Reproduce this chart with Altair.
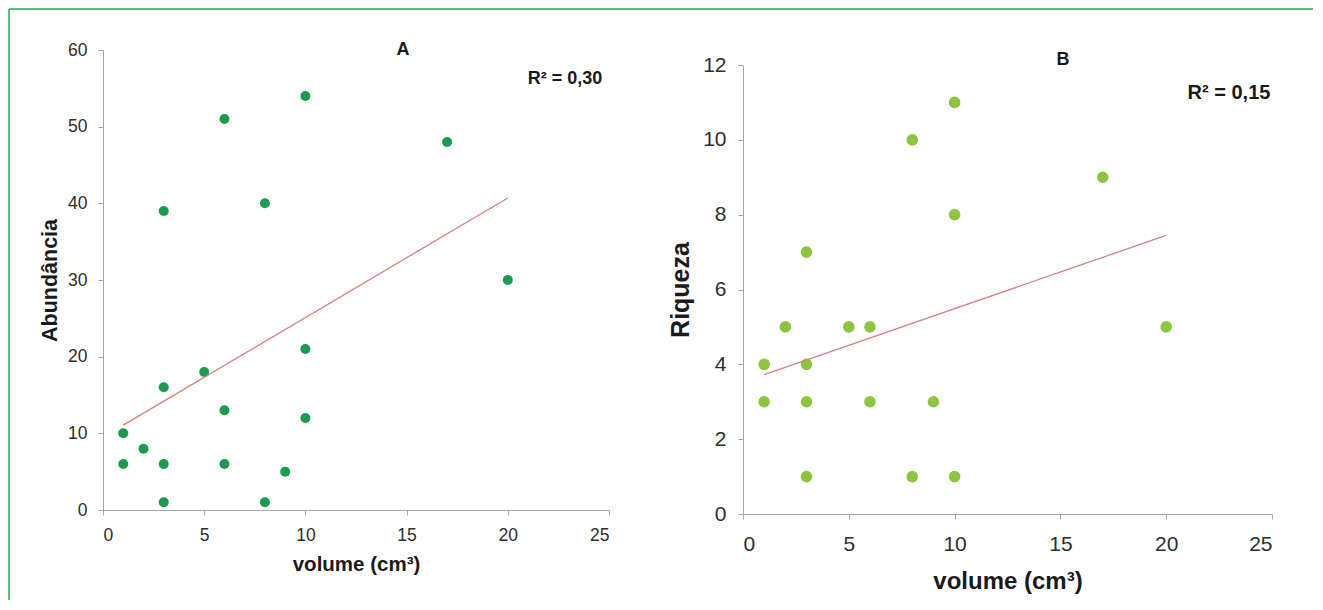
import altair as alt
import pandas as pd

# ---- data ----
vol_a = [1, 1, 2, 3, 3, 3, 3, 5, 6, 6, 6, 8, 8, 9, 10, 10, 10, 17, 20]
abundancia = [10, 6, 8, 39, 16, 6, 1, 18, 51, 13, 6, 40, 1, 5, 54, 21, 12, 48, 30]

vol_b = [1, 1, 2, 3, 3, 3, 3, 5, 6, 6, 8, 8, 9, 10, 10, 10, 17, 20]
riqueza = [4, 3, 5, 7, 4, 3, 1, 5, 5, 3, 10, 1, 3, 11, 8, 1, 9, 5]

x_ticks = [0, 5, 10, 15, 20, 25]
a_ticks = [0, 10, 20, 30, 40, 50, 60]
b_ticks = [0, 2, 4, 6, 8, 10, 12]

label_a = "A"
label_b = "B"
r2_a = "R\u00b2 = 0,30"
r2_b = "R\u00b2 = 0,15"
x_title = "volume (cm\u00b3)"

FONT = "Liberation Sans"
AXIS_GREY = "#a6a6a6"
BORDER = "#5cc078"
LINE = "#da7f7f"

A_W, A_H = 506, 460
B_W, B_H = 529, 449


def axis(values, title, fs, tfs, lpad, tpad):
    return alt.Axis(values=values, title=title, grid=False,
                    domainColor=AXIS_GREY, tickColor=AXIS_GREY, tickSize=5,
                    labelFont=FONT, labelFontSize=fs, labelColor="#2e2e2e",
                    labelPadding=lpad, titleFont=FONT, titleFontSize=tfs,
                    titleFontWeight="bold", titleColor="#1a1a1a",
                    titlePadding=tpad)


one = pd.DataFrame({"k": [0]})


def panel(df, yfield, ydom, yticks, color, size, fs, xtfs, ytfs,
          letter, lx, ly, r2, rx, ry, tfsz, rfsz,
          xlpad, xtpad, ylpad, ytpad, W, H, borders):
    x = alt.X("volume:Q", scale=alt.Scale(domain=[0, 25], nice=False),
              axis=axis(x_ticks, x_title, fs, xtfs, xlpad, xtpad))
    y = alt.Y(f"{yfield}:Q", scale=alt.Scale(domain=ydom, nice=False),
              axis=axis(yticks, yfield, fs, ytfs, ylpad, ytpad))
    pts = alt.Chart(df).mark_circle(size=size, color=color, opacity=1).encode(x=x, y=y)
    reg = alt.Chart(df).mark_line(color=LINE, strokeWidth=1.3).encode(
        x="volume:Q", y=f"{yfield}:Q"
    ).transform_regression("volume", yfield, extent=[1, 20])
    t1 = alt.Chart(one).mark_text(text=letter, font=FONT, fontSize=tfsz,
                                  fontWeight="bold", color="#1a1a1a").encode(
        x=alt.value(lx), y=alt.value(ly))
    t2 = alt.Chart(one).mark_text(text=r2, font=FONT, fontSize=rfsz,
                                  fontWeight="bold", color="#1a1a1a").encode(
        x=alt.value(rx), y=alt.value(ry))
    layers = [pts, reg, t1, t2]
    for (x1, x2, y1, y2) in borders:
        layers.append(alt.Chart(one).mark_rule(color=BORDER, strokeWidth=2).encode(
            x=alt.value(x1), x2=alt.value(x2), y=alt.value(y1), y2=alt.value(y2)))
    return alt.layer(*layers).properties(width=W, height=H)


dfa = pd.DataFrame({"volume": vol_a, "Abundância": abundancia})
dfb = pd.DataFrame({"volume": vol_b, "Riqueza": riqueza})

chart_a = panel(dfa, "Abundância", [0, 60], a_ticks, "#1a9c4e", 100, 17.5, 20.5, 21.5,
                label_a, 300, 0, r2_a, 462, 29, 18, 18,
                11, 11, 11, 6, A_W, A_H,
                [(-94, 1210, -41, -41), (-94, -94, -41, 550)])
chart_b = panel(dfb, "Riqueza", [0, 12], b_ticks, "#8cc63f", 135, 21, 24, 25,
                label_b, 320, -5, r2_b, 486, 28, 18, 20,
                14, 15, 12, 9, B_W, B_H, [])

spacer = alt.Chart(one).mark_point(opacity=0).encode(
    x=alt.value(0), y=alt.value(0)).properties(width=1, height=1)

right = alt.vconcat(spacer, chart_b, spacing=14, bounds="flush")

chart = alt.hconcat(chart_a, right, spacing=134, bounds="flush").properties(
    padding=0).configure_view(stroke=None)

chart.save("out.html", embed_options={"renderer": "svg", "actions": False})
